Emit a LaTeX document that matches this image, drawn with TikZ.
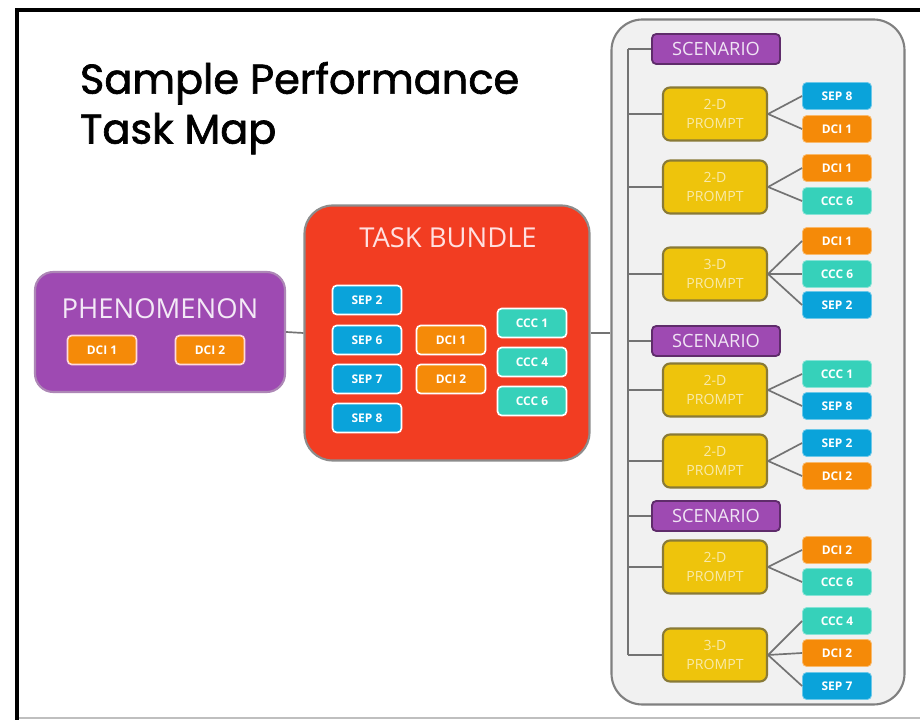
\documentclass[tikz,border=0pt]{standalone}
\usepackage{fontspec}
\setmainfont{Open Sans}
\newfontfamily\titlefont[FakeBold=1.6]{Poppins}
\usetikzlibrary{positioning}
\definecolor{purp}{HTML}{9E4AB2}
\definecolor{bundlered}{HTML}{F23D22}
\definecolor{sep}{HTML}{0AA3DA}
\definecolor{dci}{HTML}{F58A08}
\definecolor{ccc}{HTML}{36D1BA}
\definecolor{yel}{HTML}{EEC40C}
\definecolor{panelgray}{HTML}{F1F1F1}
\def\pxu{0.025cm}

\begin{document}
\begin{tikzpicture}[
x=\pxu, y=-\pxu,
conn/.style={draw=black!55, line width=1.2pt},
big/.style={
  rounded corners=13pt,
  line width=1.5pt,
  inner sep=0pt
  },
chip/.style={
  draw=white, line width=1.2pt,
  fill=#1,
  rounded corners=3pt,
  minimum width=69*\pxu,
  minimum height=29*\pxu,
  inner sep=0pt,
  text=white,
  font=\fontsize{8.5}{10}\selectfont\bfseries
  },
leaf/.style={
  chip=#1,
  draw=#1!60!white,
  line width=0.6pt,
  minimum height=27*\pxu
  },
scen/.style={
  draw=purp!60!black, fill=purp,
  line width=1.3pt,
  rounded corners=3pt,
  minimum width=128*\pxu,
  minimum height=30*\pxu,
  inner sep=0pt,
  text=purp!15!white,
  font=\fontsize{13}{14}\selectfont
  },
prompt/.style={
  draw=yel!45!black!80, fill=yel,
  line width=1.5pt,
  rounded corners=5pt,
  minimum width=104*\pxu,
  minimum height=53*\pxu,
  inner sep=0pt,
  align=center,
  text=yel!35!white,
  font=\fontsize{10}{13}\selectfont
  },
heading/.style={
  text=#1,
  font=\fontsize{19.5}{22}\selectfont
  }
]
\useasboundingbox (0,0) rectangle (920,720);
\fill[white] (0,0) rectangle (920,720);
\draw[black!25, line width=0.8pt] (17,718) -- (920,718);
\draw[line width=2.4pt] (17,720) -- (17,10) -- (920,10);

\node[anchor=north west, align=left, font=\titlefont\fontsize{29.5}{35.5}\selectfont] (title) at (75,57)
  {Sample Performance\\Task Map};

% phenomenon
\node[big, draw=purp!75!black!60, fill=purp, minimum width=250*\pxu, minimum height=120*\pxu] (phen) at (160,332) {};
\node[heading=purp!12!white] (phenT) at (160,309) {PHENOMENON};
\node[chip=dci, draw=pink!60!white] (phDCI1) at (102,350) {DCI 1};
\node[chip=dci, draw=pink!60!white] (phDCI2) at (210,350) {DCI 2};

% task bundle
\node[big, draw=black!45, fill=bundlered, rounded corners=20pt, minimum width=285*\pxu, minimum height=255*\pxu] (bundle) at (447,333) {};
\node[heading=red!12!white] (bundleT) at (448,238) {TASK BUNDLE};
\foreach \y/\t [count=\i] in {300/2,340/6,379/7,418/8}
  \node[chip=sep] (bSEP\i) at (367,\y) {SEP \t};
\foreach \y/\t [count=\i] in {340/1,379/2}
  \node[chip=dci] (bDCI\i) at (451,\y) {DCI \t};
\foreach \y/\t [count=\i] in {323/1,362/4,401/6}
  \node[chip=ccc] (bCCC\i) at (532,\y) {CCC \t};

% scenario panel
\node[big, draw=black!50, fill=panelgray, rounded corners=22pt, minimum width=293*\pxu, minimum height=685*\pxu] (panel) at (758,362) {};

\draw[conn] (phen.east) -- (bundle.west);
\draw[conn] (bundle.east) -- (panel.west |- bundle.east);

\foreach \y [count=\i] in {49,341,516}
  \node[scen] (s\i) at (716,\y) {SCENARIO};
\foreach \y/\d [count=\i] in {114/2,187/2,274/3,390/2,461/2,567/2,655/3}
  \node[prompt] (p\i) at (715,\y) {\d-D\\PROMPT};

\coordinate (trunk) at (628,0);
\draw[conn] (s1.west -| trunk) -- (p7.west -| trunk);
\foreach \n in {s1,s2,s3,p1,p2,p3,p4,p5,p6,p7}
  \draw[conn] (\n.west) -- (\n.west -| trunk);

\foreach \p/\y/\c/\t [count=\i] in {
  p1/96/sep/SEP 8, p1/129/dci/DCI 1,
  p2/168/dci/DCI 1, p2/201/ccc/CCC 6,
  p3/241/dci/DCI 1, p3/274/ccc/CCC 6, p3/305/sep/SEP 2,
  p4/374/ccc/CCC 1, p4/406/sep/SEP 8,
  p5/443/sep/SEP 2, p5/476/dci/DCI 2,
  p6/550/dci/DCI 2, p6/582/ccc/CCC 6,
  p7/621/ccc/CCC 4, p7/653/dci/DCI 2, p7/686/sep/SEP 7}
{
  \node[leaf=\c] (l\i) at (837,\y) {\t};
  \draw[conn] (\p.east) -- (l\i.west);
}
\end{tikzpicture}
\end{document}
